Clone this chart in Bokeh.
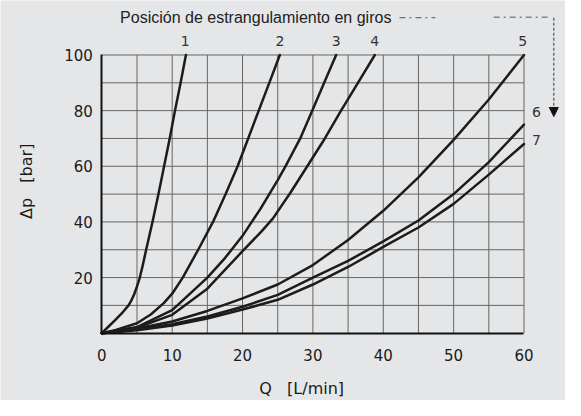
import math
from bokeh.plotting import figure
from bokeh.models import Range1d, FixedTicker, Arrow, NormalHead
from bokeh.core.properties import value
from bokeh.embed import file_html
from bokeh.resources import INLINE

# ---- data ----
q1 = [0, 1, 2, 3, 3.8, 4.2, 4.6, 5.0, 5.4, 5.8, 6.3, 7.2, 8.05, 8.85, 9.65, 10.4, 11.2, 11.95]
dp1 = [0, 2.5, 5, 7.6, 10, 11.8, 14, 16.8, 20, 24.2, 30, 40, 50, 60, 70, 80, 90, 100]

q2 = [0, 2, 5, 7, 8.8, 10, 11.5, 13.7, 15.8, 17.6, 19.3, 20.8, 22.3, 23.8, 25.3]
dp2 = [0, 1.2, 3.6, 6.8, 10.8, 14.2, 20, 30, 40, 50, 60, 70, 80, 90, 100]

q3 = [0, 5, 10, 15, 17.5, 20, 22.5, 25, 26.1, 28.2, 29.9, 31.6, 33.3]
dp3 = [0, 2.2, 8.3, 20, 27, 35, 44.5, 55, 60, 70, 80, 90, 100]

q4 = [0, 5, 10, 15, 20, 22.7, 24.3, 26.8, 29.2, 31.7, 34.0, 36.4, 38.8]
dp4 = [0, 2, 6.6, 16, 29.5, 36.6, 41.2, 50.5, 60, 70, 80, 90, 100]

q5 = [0, 5, 10, 15, 20, 25, 30, 35, 40, 45, 50, 55, 60]
dp5 = [0, 1.7, 4.2, 8, 12.5, 17.5, 24.5, 33.5, 44, 56, 69.5, 84, 100]

q6 = [0, 5, 10, 15, 20, 25, 30, 35, 40, 45, 50, 55, 60]
dp6 = [0, 1.3, 3.2, 6, 9.5, 13.8, 20, 26, 33, 40.5, 50, 61.5, 75]

q7 = [0, 5, 10, 15, 20, 25, 30, 35, 40, 45, 50, 55, 60]
dp7 = [0, 1.1, 2.8, 5.3, 8.5, 12, 17.5, 23.8, 31, 38, 46.5, 57, 68]

curve_names = ["1", "2", "3", "4", "5", "6", "7"]
x_ticks = [0, 10, 20, 30, 40, 50, 60]
y_ticks = [20, 40, 60, 80, 100]
x_grid = [5, 10, 15, 20, 25, 30, 35, 40, 45, 50, 55, 60]
y_grid = [10, 20, 30, 40, 50, 60, 70, 80, 90, 100]
title_text = "Posición de estrangulamiento en giros"
x_title = "Q\u00a0\u00a0\u00a0[L/min]"
y_title = "Δp\u00a0\u00a0\u00a0[bar]"

BG = "#e5e6e8"
INK = "#1c1c1c"
GRID = "#666666"

# frame covers the whole figure; axes are fixed at Q=0 / Δp=0
p = figure(width=565, height=400, output_backend="svg", toolbar_location=None,
           title=None,
           x_range=Range1d(-14.40, 65.90), y_range=Range1d(-24.19, 119.59),
           min_border=0,
           background_fill_color=BG, border_fill_color=BG,
           outline_line_color=None)
p.grid.visible = False

# grid drawn from the grid arrays
p.segment(x0=x_grid, y0=[0] * len(x_grid), x1=x_grid, y1=[100] * len(x_grid),
          line_color=GRID, line_width=1)
p.segment(x0=[0] * len(y_grid), y0=y_grid, x1=[60] * len(y_grid), y1=y_grid,
          line_color=GRID, line_width=1)

# axes
p.xaxis.ticker = FixedTicker(ticks=x_ticks)
p.yaxis.ticker = FixedTicker(ticks=y_ticks)
p.xaxis.fixed_location = 0
p.yaxis.fixed_location = 0
p.xaxis.bounds = (0, 60)
p.yaxis.bounds = (0, 100)
for ax in (p.xaxis, p.yaxis):
    ax.axis_line_color = "#111111"
    ax.axis_line_width = 2
    ax.major_tick_line_color = None
    ax.minor_tick_line_color = None
    ax.major_label_text_font = "DejaVu Sans"
    ax.major_label_text_font_size = "15px"
    ax.major_label_text_color = "#1a1a1a"
p.xaxis.major_label_standoff = 10
p.yaxis.major_label_standoff = 3

# curves
for qs, ds in [(q1, dp1), (q2, dp2), (q3, dp3), (q4, dp4), (q5, dp5), (q6, dp6), (q7, dp7)]:
    p.line(qs, ds, line_color=INK, line_width=2.5, line_join="round", line_cap="round")

# curve labels
label_x = [q1[-1] - 0.1, q2[-1], q3[-1], q4[-1], q5[-1] - 0.2, 61.76, 61.76]
label_y = [105.1, 105.1, 105.1, 105.1, 105.1, 79.5, 69.5]
p.text(x=label_x, y=label_y, text=curve_names, text_align="center", text_baseline="middle",
       text_font=value("DejaVu Sans"), text_font_size="14px", text_color="#333333")

# axis titles
p.text(x=[28.4], y=[-20.0], text=[x_title], text_align="center", text_baseline="middle",
       text_font=value("DejaVu Sans"), text_font_size="16px", text_color="#1a1a1a")
p.text(x=[-10.67], y=[54.6], text=[y_title], angle=math.pi / 2,
       text_align="center", text_baseline="middle",
       text_font=value("DejaVu Sans"), text_font_size="16px", text_color="#1a1a1a")

# header line with direction arrow
p.text(x=[2.6], y=[113.4], text=[title_text], text_align="left", text_baseline="middle",
       text_font=value("Liberation Sans"), text_font_size="16px", text_color="#222222")
p.segment(x0=[42.3, 55.7], y0=[113.4, 113.6], x1=[47.4, 63.5], y1=[113.4, 113.6],
          line_color="#555555", line_width=1, line_dash="dashdot")
p.add_layout(Arrow(end=NormalHead(size=9, fill_color="#111111", line_color="#111111"),
                   x_start=64.24, y_start=113.4, x_end=64.24, y_end=77.9,
                   line_color="#333333", line_width=1, line_dash="3 2"))

open("out.html", "w").write(file_html(p, INLINE))
